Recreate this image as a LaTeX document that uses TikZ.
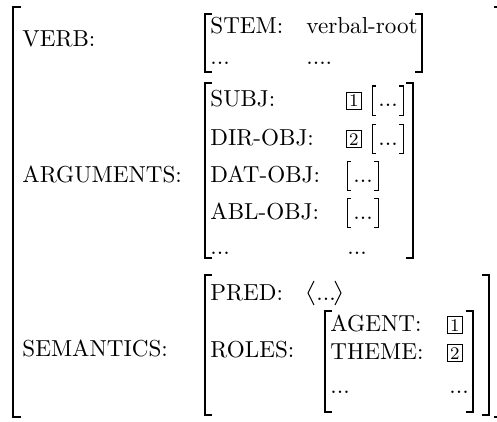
\documentclass[tikz,border=0pt]{standalone}
\begin{document}
\begin{tikzpicture}[x=0.45pt,y=-0.45pt,
  txt/.style={inner sep=0pt,anchor=base west,font=\fontsize{10.4}{12}\selectfont},
  tag/.style={draw,line width=0.4pt,inner sep=1.2pt,anchor=base west,font=\fontsize{8}{9}\selectfont},
  brk/.style={line width=0.75pt,line cap=butt,line join=miter},
  sbrk/.style={line width=0.45pt,line cap=butt,line join=miter}]
\useasboundingbox (0,0) rectangle (497,421);
% outer bracket
\draw[brk] (21,7) -- (13,7) -- (13,417) -- (21,417);
\draw[brk] (494,7) -- (497,7);
\draw[brk] (494,417) -- (497,417);
% labels
\node[txt] (verb) at (22,47) {VERB:};
\node[txt] (args) at (22,182) {ARGUMENTS:};
\node[txt] (sem)  at (22,356) {SEMANTICS:};
% VERB
\draw[brk] (212,14) -- (205,14) -- (205,72) -- (212,72);
\draw[brk] (415,14) -- (422,14) -- (422,72) -- (415,72);
\node[txt] (stem) at (210,34) {STEM:};
\node[txt] (root) at (306,34) {verbal-root};
\node[txt] (vd1) at (210,64) {...};
\node[txt] (vd2) at (306,64) {....};
% ARGUMENTS
\draw[brk] (212,83) -- (205,83) -- (205,258) -- (212,258);
\draw[brk] (406,83) -- (413,83) -- (413,258) -- (406,258);
\node[txt] (subj) at (210,107) {SUBJ:};
\node[txt] (dir)  at (210,145) {DIR-OBJ:};
\node[txt] (dat)  at (210,182) {DAT-OBJ:};
\node[txt] (abl)  at (210,219) {ABL-OBJ:};
\node[txt] (ad1)  at (210,254) {...};
\node[tag] (t1) at (346,107) {1};
\node[tag] (t2) at (346,145) {2};
\draw[sbrk] (376,86) -- (372,86) -- (372,115) -- (376,115);
\node[txt] (s1) at (378,107) {...};
\draw[sbrk] (399,86) -- (403,86) -- (403,115) -- (399,115);
\draw[sbrk] (376,124) -- (372,124) -- (372,153) -- (376,153);
\node[txt] (s2) at (378,145) {...};
\draw[sbrk] (399,124) -- (403,124) -- (403,153) -- (399,153);
\draw[sbrk] (351,161) -- (347,161) -- (347,190) -- (351,190);
\node[txt] (s3) at (353,182) {...};
\draw[sbrk] (374,161) -- (378,161) -- (378,190) -- (374,190);
\draw[sbrk] (351,198) -- (347,198) -- (347,227) -- (351,227);
\node[txt] (s4) at (353,219) {...};
\draw[sbrk] (374,198) -- (378,198) -- (378,227) -- (374,227);
\node[txt] (ad2) at (347,254) {...};
% SEMANTICS
\draw[brk] (212,275) -- (205,275) -- (205,415) -- (212,415);
\draw[brk] (482,275) -- (489,275) -- (489,415) -- (482,415);
\node[txt] (pred) at (210,300) {PRED:};
\node[txt] (roles) at (210,357) {ROLES:};
\draw[sbrk] (314,281) -- (308,293) -- (314,305);
\node[txt] (pd) at (316,300) {...};
\draw[sbrk] (335,281) -- (341,293) -- (335,305);
% ROLES
\draw[brk] (332,311) -- (325,311) -- (325,412) -- (332,412);
\draw[brk] (466,311) -- (473,311) -- (473,412) -- (466,412);
\node[txt] (agent) at (330,331) {AGENT:};
\node[txt] (theme) at (330,359) {THEME:};
\node[txt] (rd1)   at (330,393) {...};
\node[tag] (r1) at (447,331) {1};
\node[tag] (r2) at (447,359) {2};
\node[txt] (rd2) at (449,393) {...};
\end{tikzpicture}
\end{document}
